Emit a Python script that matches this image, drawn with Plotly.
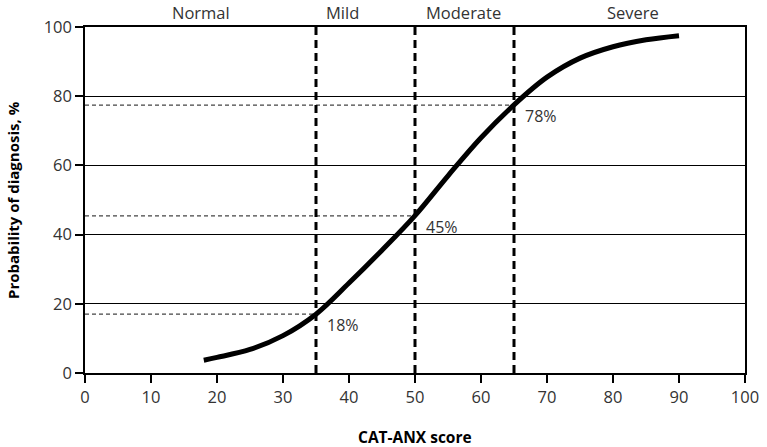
import plotly.graph_objects as go

# Data
score = [18, 20, 25, 30, 35, 40, 45, 50, 55, 60, 65, 70, 75, 80, 85, 90]
prob = [3.7, 4.5, 6.8, 10.8, 17, 26, 35.5, 45.5, 57, 68, 77.5, 85.5, 91, 94.3, 96.3, 97.5]

cutoffs = [35, 50, 65]
cutoff_probs = [17, 45.4, 77.4]
cutoff_labels = ["18%", "45%", "78%"]

severity = ["Normal", "Mild", "Moderate", "Severe"]
severity_x = [17.5, 39, 57.3, 83]

FONT = "Open Sans"

fig = go.Figure()

for cx, cp in zip(cutoffs, cutoff_probs):
    fig.add_trace(go.Scatter(x=[0, cx], y=[cp, cp], mode="lines",
                             line=dict(color="#444", width=1.2, dash="4px,3px"),
                             hoverinfo="skip", showlegend=False))

for cx in cutoffs:
    fig.add_trace(go.Scatter(x=[cx, cx], y=[0, 100], mode="lines",
                             line=dict(color="black", width=3, dash="8px,5px"),
                             hoverinfo="skip", showlegend=False))

fig.add_trace(go.Scatter(x=score, y=prob, mode="lines",
                         line=dict(color="black", width=5, shape="spline", smoothing=1.0),
                         showlegend=False))

annotations = []
for cx, cp, lab in zip(cutoffs, cutoff_probs, cutoff_labels):
    annotations.append(dict(x=cx + 1.4, y=cp - 3.2, text=lab, showarrow=False,
                            xanchor="left", yanchor="middle",
                            font=dict(family=FONT, size=16, color="#333")))
for name, sx in zip(severity, severity_x):
    annotations.append(dict(x=sx, y=1, xref="x", yref="paper", yanchor="middle", yshift=15,
                            text=name, showarrow=False,
                            font=dict(family=FONT, size=16.5, color="#333")))
annotations.append(dict(x=0.5, xref="paper", y=0, yref="paper", yanchor="middle", yshift=-64,
                        text="<b>CAT-ANX score</b>", showarrow=False,
                        font=dict(family=FONT, size=15.5, color="black")))
annotations.append(dict(x=0, xref="paper", xshift=-72, y=0.5, yref="paper",
                        textangle=-90, xanchor="center", yanchor="middle",
                        text="<b>Probability of diagnosis, %</b>", showarrow=False,
                        font=dict(family=FONT, size=15, color="black")))

fig.update_layout(
    width=767, height=447,
    margin=dict(l=85, r=22, t=27, b=74),
    plot_bgcolor="white", paper_bgcolor="white",
    annotations=annotations,
    font=dict(family=FONT, color="#333"),
    xaxis=dict(range=[0, 100], tickvals=list(range(0, 101, 10)), automargin=False,
               showgrid=False, zeroline=False,
               showline=True, linecolor="black", linewidth=1.5, mirror=True,
               ticks="outside", ticklen=8, tickwidth=1.5, tickcolor="black",
               tickfont=dict(family=FONT, size=16.5, color="#333")),
    yaxis=dict(range=[0, 100], tickvals=list(range(0, 101, 20)), automargin=False,
               showgrid=True, gridcolor="black", gridwidth=1, zeroline=False,
               showline=True, linecolor="black", linewidth=1.5, mirror=True,
               ticks="outside", ticklen=8, tickwidth=1.5, tickcolor="black",
               tickfont=dict(family=FONT, size=16.5, color="#333")),
)

fig.write_html("out.html", config={"displayModeBar": False},
               post_script="document.body.style.margin='0';document.body.style.overflow='hidden';")
